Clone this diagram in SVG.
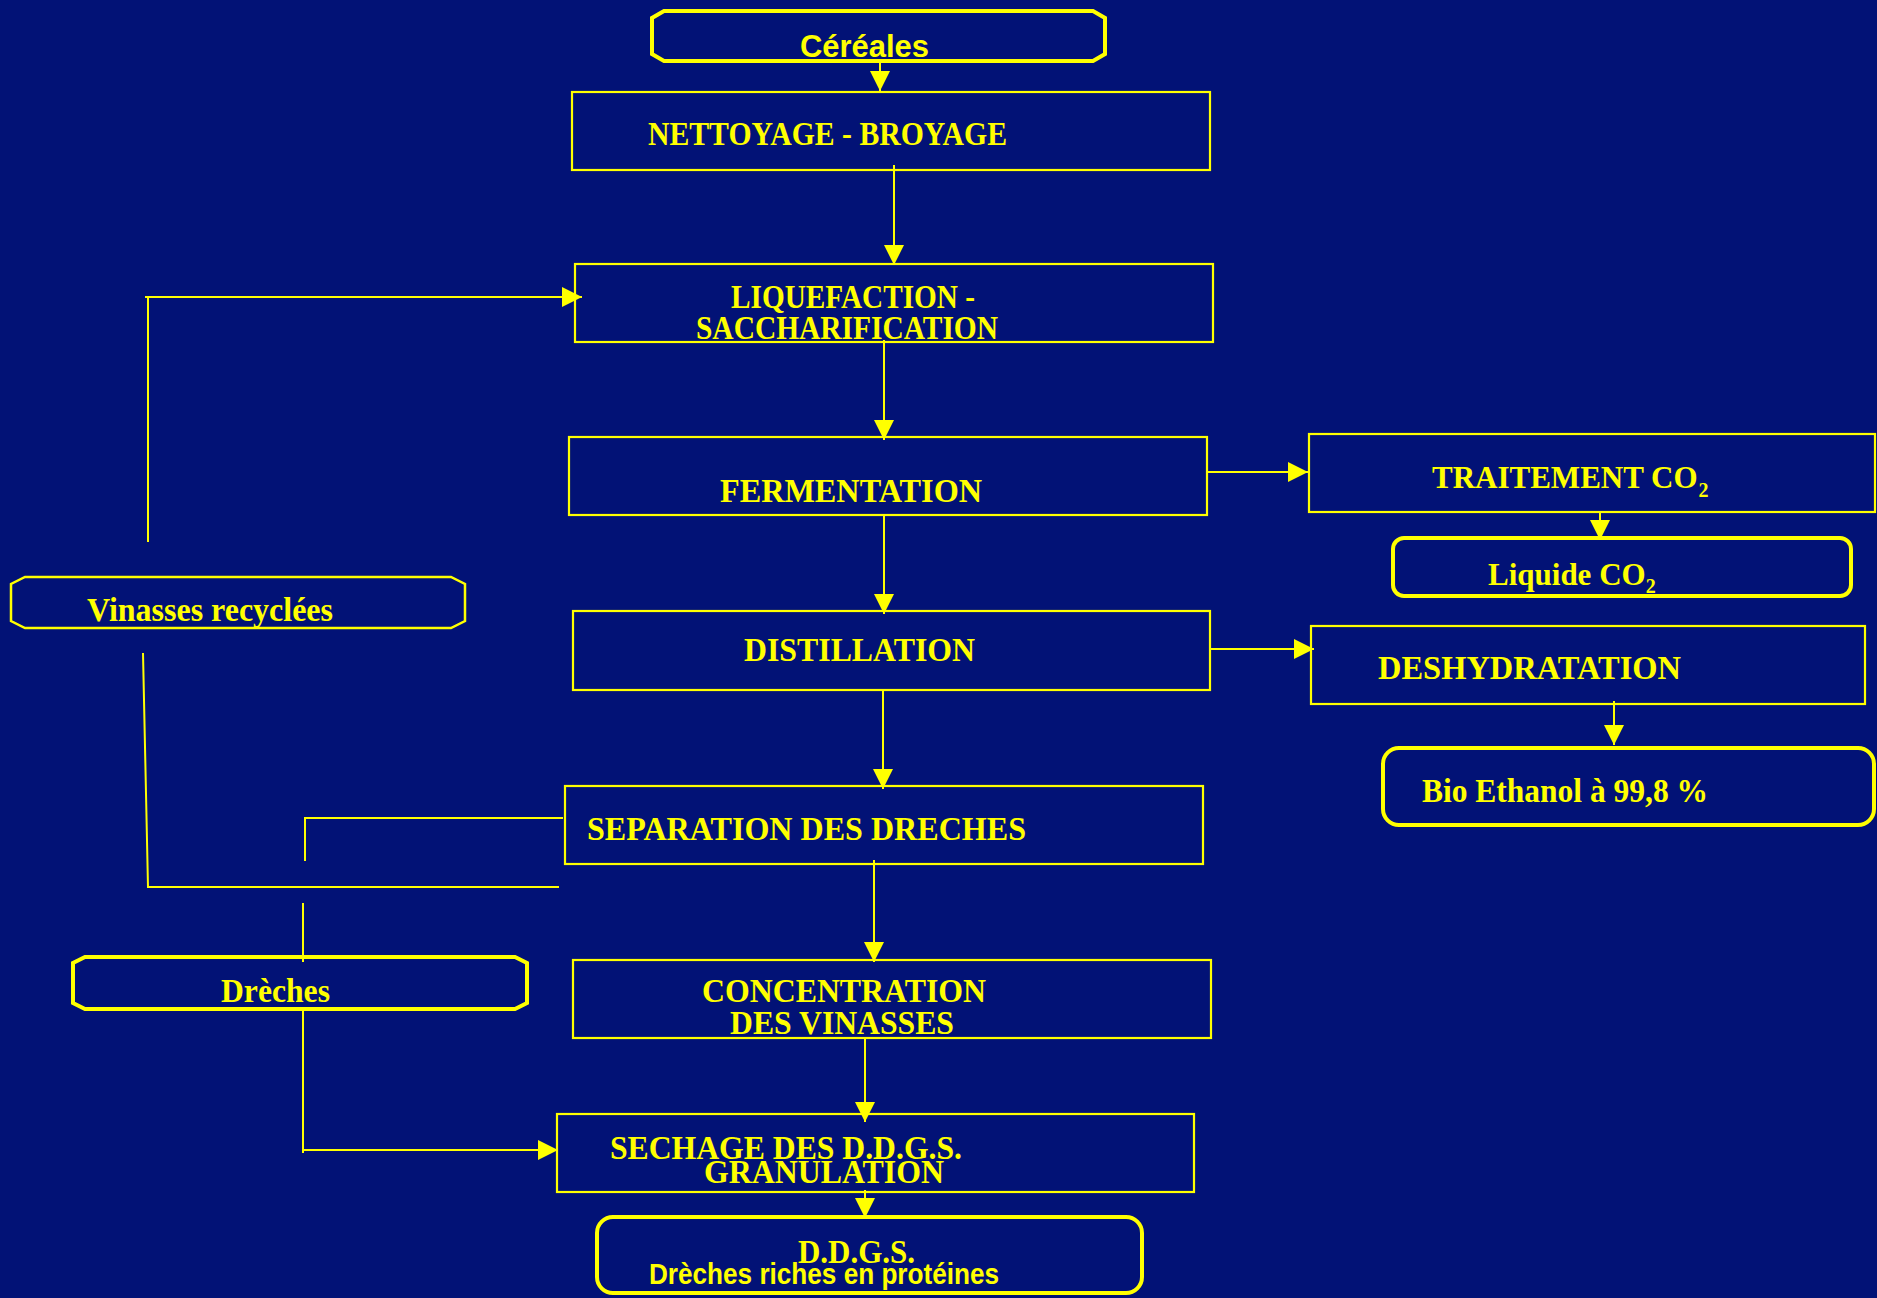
<svg xmlns="http://www.w3.org/2000/svg" width="1877" height="1298" viewBox="0 0 1877 1298">
<style>
.bg{fill:#021276}
.box{fill:none;stroke:#FFFF00;stroke-width:2.2}
.rbox{fill:none;stroke:#FFFF00;stroke-width:4}
.tbox{fill:none;stroke:#FFFF00;stroke-width:2.5}
.t{font-family:"Liberation Serif","Times New Roman",serif;font-weight:bold;font-size:33px;fill:#FFFF00}
.t31{font-size:31px}
.a{font-family:"Liberation Sans",Arial,sans-serif;font-weight:bold;fill:#FFFF00}
.sub{font-size:20px}
.c{fill:none;stroke:#FFFF00;stroke-width:2}
</style>
<defs>
<marker id="ah" markerUnits="userSpaceOnUse" viewBox="0 0 20 20" refX="20" refY="10" markerWidth="20" markerHeight="20" orient="auto">
<path d="M0,0 L20,10 L0,20 z" fill="#FFFF00"/>
</marker>
</defs>
<rect class="bg" x="0" y="0" width="1877" height="1298"/>

<g id="connectors">
<line class="c" x1="880" y1="61" x2="880" y2="91" marker-end="url(#ah)"/>
<line class="c" x1="894" y1="165" x2="894" y2="265" marker-end="url(#ah)"/>
<line class="c" x1="884" y1="340" x2="884" y2="440" marker-end="url(#ah)"/>
<line class="c" x1="884" y1="515" x2="884" y2="614" marker-end="url(#ah)"/>
<line class="c" x1="883" y1="690" x2="883" y2="789" marker-end="url(#ah)"/>
<line class="c" x1="874" y1="860" x2="874" y2="962" marker-end="url(#ah)"/>
<line class="c" x1="865" y1="1037" x2="865" y2="1122" marker-end="url(#ah)"/>
<line class="c" x1="865" y1="1190" x2="865" y2="1218" marker-end="url(#ah)"/>
<line class="c" x1="1206" y1="472" x2="1308" y2="472" marker-end="url(#ah)"/>
<line class="c" x1="1600" y1="512" x2="1600" y2="540" marker-end="url(#ah)"/>
<line class="c" x1="1211" y1="649" x2="1314" y2="649" marker-end="url(#ah)"/>
<line class="c" x1="1614" y1="701" x2="1614" y2="745" marker-end="url(#ah)"/>
<polyline class="c" points="148,542 148,297"/>
<line class="c" x1="145" y1="297" x2="582" y2="297" marker-end="url(#ah)"/>
<polyline class="c" points="143,653 148,887 559,887"/>
<polyline class="c" points="563,818 305,818 305,861"/>
<line class="c" x1="303" y1="903" x2="303" y2="962"/>
<line class="c" x1="303" y1="1009" x2="303" y2="1153"/>
<line class="c" x1="303" y1="1150" x2="558" y2="1150" marker-end="url(#ah)"/>
</g>

<g id="cereales">
<path class="rbox" d="M664,11 L1093,11 L1105,18 L1105,54 L1093,61 L664,61 L652,54 L652,18 Z"/>
<text class="a" x="800" y="57" font-size="32" textLength="129" lengthAdjust="spacingAndGlyphs">Céréales</text>
</g>

<g id="nettoyage">
<rect class="box" x="572" y="92" width="638" height="78"/>
<text class="t" x="648" y="145" textLength="359" lengthAdjust="spacingAndGlyphs">NETTOYAGE - BROYAGE</text>
</g>

<g id="liquefaction">
<rect class="box" x="575" y="264" width="638" height="78"/>
<text class="t" x="731" y="308" textLength="244" lengthAdjust="spacingAndGlyphs">LIQUEFACTION -</text>
<text class="t" x="696" y="339" textLength="302" lengthAdjust="spacingAndGlyphs">SACCHARIFICATION</text>
</g>

<g id="fermentation">
<rect class="box" x="569" y="437" width="638" height="78"/>
<text class="t" x="720" y="502" textLength="262" lengthAdjust="spacingAndGlyphs">FERMENTATION</text>
</g>

<g id="distillation">
<rect class="box" x="573" y="611" width="637" height="79"/>
<text class="t" x="744" y="661" textLength="231" lengthAdjust="spacingAndGlyphs">DISTILLATION</text>
</g>

<g id="separation">
<rect class="box" x="565" y="786" width="638" height="78"/>
<text class="t" x="587" y="840" textLength="439" lengthAdjust="spacingAndGlyphs">SEPARATION DES DRECHES</text>
</g>

<g id="concentration">
<rect class="box" x="573" y="960" width="638" height="78"/>
<text class="t" x="702" y="1002" textLength="284" lengthAdjust="spacingAndGlyphs">CONCENTRATION</text>
<text class="t" x="730" y="1034" textLength="224" lengthAdjust="spacingAndGlyphs">DES VINASSES</text>
</g>

<g id="sechage">
<rect class="box" x="557" y="1114" width="637" height="78"/>
<text class="t" x="610" y="1159" textLength="352" lengthAdjust="spacingAndGlyphs">SECHAGE DES D.D.G.S.</text>
<text class="t" x="704" y="1183" textLength="240" lengthAdjust="spacingAndGlyphs">GRANULATION</text>
</g>

<g id="ddgs">
<rect class="rbox" x="597" y="1217" width="545" height="76" rx="16" ry="16"/>
<text class="t" x="798" y="1263" textLength="117" lengthAdjust="spacingAndGlyphs">D.D.G.S.</text>
<text class="a" x="649" y="1284" font-size="29" textLength="350" lengthAdjust="spacingAndGlyphs">Drèches riches en protéines</text>
</g>

<g id="traitement">
<rect class="box" x="1309" y="434" width="566" height="78"/>
<text class="t t31" x="1432" y="488">TRAITEMENT CO<tspan class="sub" dx="1" dy="9">2</tspan></text>
</g>

<g id="liquide">
<rect class="rbox" x="1393" y="538" width="458" height="58" rx="11" ry="11"/>
<text class="t t31" x="1488" y="585">Liquide CO<tspan class="sub" dx="0" dy="8">2</tspan></text>
</g>

<g id="deshydratation">
<rect class="box" x="1311" y="626" width="554" height="78"/>
<text class="t" x="1378" y="679" textLength="303" lengthAdjust="spacingAndGlyphs">DESHYDRATATION</text>
</g>

<g id="bioethanol">
<rect class="rbox" x="1383" y="748" width="491" height="77" rx="16" ry="16"/>
<text class="t" x="1422" y="802" textLength="286" lengthAdjust="spacingAndGlyphs">Bio Ethanol à 99,8 %</text>
</g>

<g id="vinasses">
<path class="tbox" d="M25,577 L451,577 L465,584 L465,621 L451,628 L25,628 L11,621 L11,584 Z"/>
<text class="t" x="87" y="621" textLength="246" lengthAdjust="spacingAndGlyphs">Vinasses recyclées</text>
</g>

<g id="dreches">
<path class="rbox" d="M85,957 L515,957 L527,963 L527,1003 L515,1009 L85,1009 L73,1003 L73,963 Z"/>
<text class="t" x="221" y="1002" textLength="109" lengthAdjust="spacingAndGlyphs">Drèches</text>
</g>
</svg>
